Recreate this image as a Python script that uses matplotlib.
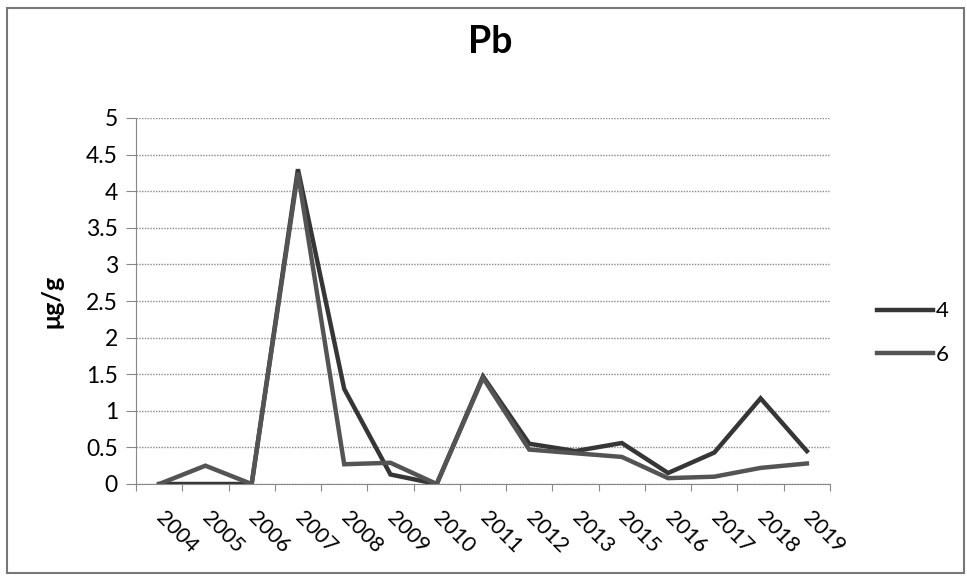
import matplotlib
matplotlib.use("Agg")
import matplotlib.pyplot as plt
from matplotlib.patches import Rectangle

# data
years = ['2004', '2005', '2006', '2007', '2008', '2009', '2010', '2011',
         '2012', '2013', '2015', '2016', '2017', '2018', '2019']
s4 = [0, 0, 0, 4.3, 1.3, 0.13, 0, 1.47, 0.55, 0.45, 0.56, 0.15, 0.43, 1.17, 0.45]
s6 = [0, 0.25, 0, 4.25, 0.27, 0.29, 0, 1.45, 0.47, 0.42, 0.37, 0.08, 0.1, 0.22, 0.28]
yticks = [0, 0.5, 1, 1.5, 2, 2.5, 3, 3.5, 4, 4.5, 5]
ylabels = ['0', '0.5', '1', '1.5', '2', '2.5', '3', '3.5', '4', '4.5', '5']

plt.rcParams['font.family'] = ['Lato', 'DejaVu Sans']

fig = plt.figure(figsize=(9.67, 5.76), dpi=100)
ax = fig.add_axes([136 / 967, 1 - 484 / 576, (830 - 136) / 967, (484 - 118) / 576])

x = list(range(len(years)))
ax.plot(x, s4, color='#363636', lw=3.2, label='4', solid_joinstyle='miter')
ax.plot(x, s6, color='#545454', lw=3.2, label='6', solid_joinstyle='miter')

ax.set_xlim(-0.5, len(years) - 0.5)
ax.set_ylim(0, 5)
ax.set_yticks(yticks)
ax.set_yticklabels(ylabels, fontsize=16.5)
ax.yaxis.grid(True, color='#8a8a8a', linestyle=(0, (1, 1)), lw=1)
ax.set_axisbelow(True)

# excel style: ticks between categories, labels at centres
ax.set_xticks([i - 0.5 for i in range(len(years) + 1)])
ax.set_xticklabels([])
ax.tick_params(axis='x', length=5, color='#888888', direction='out')
ax.tick_params(axis='y', length=7, color='#888888', direction='out', pad=6)
for i, yr in enumerate(years):
    ax.text(i + 0.15, -0.33, yr, rotation=-45, ha='left', va='top',
            rotation_mode='anchor', fontsize=15.5, transform=ax.transData)

for side in ['top', 'right']:
    ax.spines[side].set_visible(False)
ax.spines['left'].set_color('#888888')
ax.spines['bottom'].set_color('#888888')
ax.spines['left'].set_linestyle((0, (1, 1)))
ax.spines['bottom'].set_linestyle((0, (1, 1)))

ax.set_ylabel('μg/g', fontsize=18, fontweight='bold', labelpad=16)
fig.text(490 / 967, 1 - 42 / 576, 'Pb', fontsize=27, fontweight='bold',
         ha='center', va='center')

leg = fig.legend(handles=ax.get_lines(), loc='center left',
                 bbox_to_anchor=(877 / 967, 1 - 333 / 576), frameon=False,
                 fontsize=16, handlelength=2.5, handletextpad=0.15,
                 labelspacing=1.05, borderaxespad=0, borderpad=0)

# outer chart border
fig.patches.append(Rectangle((7 / 967, 3 / 576), 957 / 967, 565 / 576,
                             transform=fig.transFigure, fill=False,
                             edgecolor='#777777', lw=1.5))

fig.savefig('out.png', dpi=100)
